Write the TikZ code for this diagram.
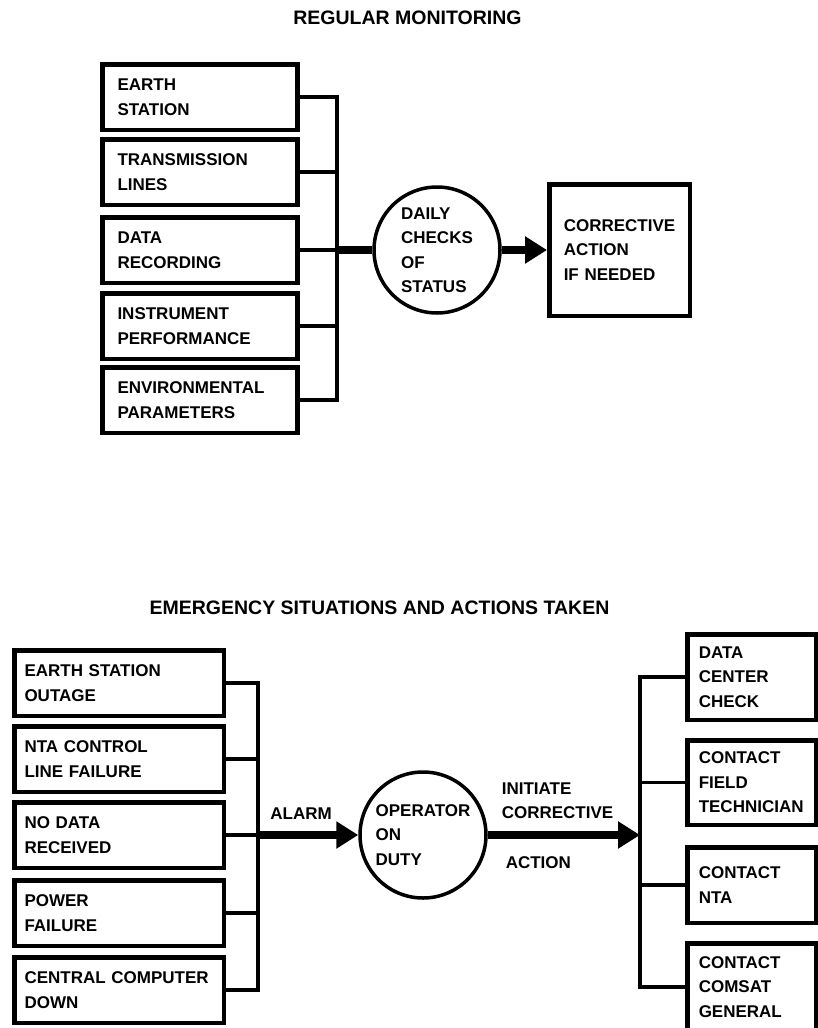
\documentclass[tikz,border=0pt]{standalone}
\usepackage{fontspec}
\setmainfont{Liberation Sans}
\usetikzlibrary{arrows.meta}

\begin{document}
\begin{tikzpicture}[x=1pt, y=-1pt, font=\fontsize{17}{24.5}\selectfont\bfseries,
  title/.style={font=\fontsize{19.5}{24}\selectfont\bfseries},
  box/.style={draw, line width=4.5pt, align=left, minimum height=65.5pt},
  lbox/.style={box, text width=165pt, inner xsep=15pt},
  ebox/.style={box, text width=189pt, inner xsep=10.25pt},
  rbox/.style={box, text width=105.5pt, inner xsep=11.5pt},
  ring/.style={circle, draw, line width=3.5pt, minimum size=126pt, inner sep=0pt, align=left},
  link/.style={line width=3.2pt},
  flow/.style={line width=8pt},
  tip/.style={-{Triangle[length=22pt, width=26pt]}}]
\useasboundingbox (0,0) rectangle (818,1028);

\node[title] (regular) at (407.5,18) {REGULAR MONITORING};
  \node[lbox] (earth) at (200,97) {EARTH\\STATION};
  \node[lbox] (lines) at (200,172) {TRANSMISSION\\LINES};
  \node[lbox] (rec) at (200,250) {DATA\\RECORDING};
  \node[lbox] (perf) at (200,326) {INSTRUMENT\\PERFORMANCE};
  \node[lbox] (env) at (200,400) {ENVIRONMENTAL\\PARAMETERS};
\node[ring] (daily) at (437,250) {DAILY\\CHECKS\\OF\\STATUS};
\node[box, text width=111.5pt, inner xsep=14.5pt, minimum height=131.5pt] (fix) at (619.5,250) {CORRECTIVE\\ACTION\\IF NEEDED};
\coordinate (topbar) at (337,0);

  \draw[link] (earth.east) -- (earth.east -| topbar) -- (env.east -| topbar) -- (env.east);
  \foreach \n in {lines, rec, perf} \draw[link] (\n.east) -- (\n.east -| topbar);
  \draw[flow] (rec.east -| topbar) -- (daily);
  \draw[flow, tip] (daily) -- (fix);

\node[title] (emergency) at (379.5,608) {EMERGENCY SITUATIONS AND ACTIONS TAKEN};
  \node[ebox] (outage) at (119,683) {EARTH STATION\\OUTAGE};
  \node[ebox] (ctrl) at (119,759) {NTA CONTROL\\LINE FAILURE};
  \node[ebox] (nodata) at (119,835) {NO DATA\\RECEIVED};
  \node[ebox] (power) at (119,913) {POWER\\FAILURE};
  \node[ebox] (comp) at (119,990) {CENTRAL COMPUTER\\DOWN};
\node[ring] (duty) at (423,835) {OPERATOR\\ON\\DUTY};
  \node[rbox, minimum height=85.5pt] (dccheck) at (751.5,677) {DATA\\CENTER\\CHECK};
  \node[rbox, minimum height=84.5pt] (field) at (751.5,782.5) {CONTACT\\FIELD\\TECHNICIAN};
  \node[rbox, minimum height=75.5pt] (nta) at (751.5,885) {CONTACT\\NTA};
  \node[rbox, minimum height=87.5pt] (comsat) at (751.5,987) {CONTACT\\COMSAT\\GENERAL};
\coordinate (lbar) at (258,0);
\coordinate (rbar) at (640,0);

  \draw[link] (outage.east) -- (outage.east -| lbar) -- (comp.east -| lbar) -- (comp.east);
  \foreach \n in {ctrl, nodata, power} \draw[link] (\n.east) -- (\n.east -| lbar);
  \draw[link] (dccheck.west) -- (dccheck.west -| rbar) -- (comsat.west -| rbar) -- (comsat.west);
  \foreach \n in {field, nta} \draw[link] (\n.west) -- (\n.west -| rbar);
  \draw[flow, tip] (nodata.east -| lbar) -- node[pos=0.43, above=8pt] {ALARM} (duty);
  \draw[flow, tip] (duty) -- node[pos=0, anchor=south west, xshift=6.7pt, yshift=8.7pt, align=left] {INITIATE\\CORRECTIVE}
    node[pos=0, anchor=north west, xshift=10.7pt, yshift=-14.7pt] {ACTION} (duty -| rbar);

\end{tikzpicture}
\end{document}
